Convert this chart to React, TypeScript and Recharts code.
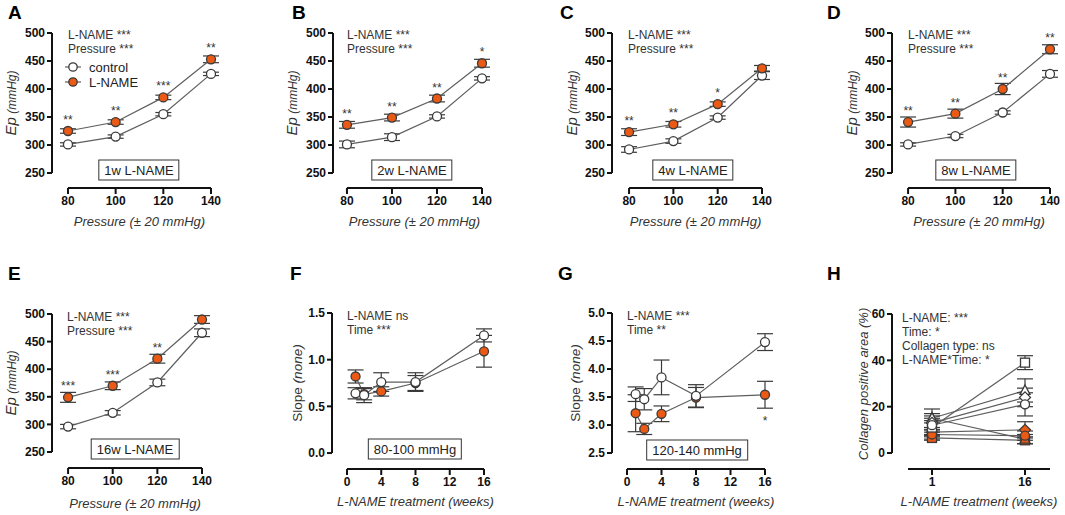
import React from 'react';
import { ComposedChart, Line, XAxis, YAxis, ErrorBar, ReferenceLine, LabelList } from 'recharts';

const FONT = "'Liberation Sans', Arial, Helvetica, sans-serif";
const ORANGE = '#EB5A14';
const EDGE = '#3a3a3a';
const LINE = '#5e5e5e';
const INK = '#333';

// A–E: Ep vs pressure step
const PRESSURE = [80, 100, 120, 140];
const EP_TICKS = [250, 300, 350, 400, 450, 500];

const CTRL_1W = [301, 315, 355, 427];
const CTRL_1W_ERR = [3, 3, 3, 3];
const LN_1W = [325, 341, 385, 453];
const LN_1W_ERR = [4, 4, 4, 6];
const SIG_1W = ['**', '**', '***', '**'];

const CTRL_2W = [301, 314, 351, 419];
const CTRL_2W_ERR = [6, 6, 3, 3];
const LN_2W = [336, 349, 383, 446];
const LN_2W_ERR = [6, 6, 6, 7];
const SIG_2W = ['**', '**', '**', '*'];

const CTRL_4W = [292, 307, 349, 424];
const CTRL_4W_ERR = [5, 4, 3, 7];
const LN_4W = [323, 337, 373, 437];
const LN_4W_ERR = [6, 5, 4, 5];
const SIG_4W = ['**', '**', '*', ''];

const CTRL_8W = [301, 316, 358, 427];
const CTRL_8W_ERR = [3, 3, 3, 6];
const LN_8W = [341, 356, 400, 471];
const LN_8W_ERR = [9, 8, 10, 8];
const SIG_8W = ['**', '**', '**', '**'];

const CTRL_16W = [296, 321, 376, 466];
const CTRL_16W_ERR = [4, 4, 6, 7];
const LN_16W = [349, 370, 419, 490];
const LN_16W_ERR = [9, 7, 8, 7];
const SIG_16W = ['***', '***', '**', ''];

// F, G: slope vs treatment time
const WEEKS = [1, 2, 4, 8, 16];
const WEEK_TICKS = [0, 4, 8, 12, 16];

const SLOPE_LO_CTRL = [0.64, 0.62, 0.76, 0.76, 1.26];
const SLOPE_LO_CTRL_ERR = [0.06, 0.08, 0.1, 0.1, 0.07];
const SLOPE_LO_LN = [0.82, 0.63, 0.66, 0.75, 1.09];
const SLOPE_LO_LN_ERR = [0.07, 0.06, 0.05, 0.08, 0.17];

const SLOPE_HI_CTRL = [3.55, 3.46, 3.85, 3.52, 4.48];
const SLOPE_HI_CTRL_ERR = [0.13, 0.19, 0.31, 0.2, 0.15];
const SLOPE_HI_LN = [3.21, 2.93, 3.2, 3.49, 3.54];
const SLOPE_HI_LN_ERR = [0.33, 0.1, 0.14, 0.18, 0.24];
const SIG_HI = ['', '', '', '', '*'];

// H: collagen positive area, 4 collagen types
const TIMES = [1, 16];
const COL_CTRL = { sq: [11, 39], tri: [15, 27], dia: [13, 24], circ: [12, 21] };
const COL_CTRL_ERR = { sq: [3, 3], tri: [4, 5], dia: [3, 4], circ: [3, 5] };
const COL_LN = { sq: [6.5, 5.5], tri: [15, 6], dia: [9, 10], circ: [8, 7.5] };
const COL_LN_ERR = { sq: [1, 1.5], tri: [2, 2], dia: [2, 3.5], circ: [2, 2] };

const epRows = (c: number[], cE: number[], l: number[], lE: number[], sig: string[]) =>
  PRESSURE.map((p, i) => ({ x: p, c: c[i], cE: cE[i], l: l[i], lE: lE[i], sig: sig[i] }));

const weekRows = (c: number[], cE: number[], l: number[], lE: number[], sig?: string[]) =>
  WEEKS.map((w, i) => ({ x: w, c: c[i], cE: cE[i], l: l[i], lE: lE[i], sig: sig ? sig[i] : '' }));

const SHAPES = ['sq', 'tri', 'dia', 'circ'] as const;
const colRows = TIMES.map((t, i) => {
  const row: any = { x: t };
  SHAPES.forEach((s) => {
    row['c_' + s] = (COL_CTRL as any)[s][i];
    row['cE_' + s] = (COL_CTRL_ERR as any)[s][i];
    row['l_' + s] = (COL_LN as any)[s][i];
    row['lE_' + s] = (COL_LN_ERR as any)[s][i];
  });
  return row;
});

function Marker({ cx, cy, shape, fill }: any) {
  if (cx == null || cy == null || isNaN(cy)) return null;
  const r = 4.5;
  const st = { fill, stroke: EDGE, strokeWidth: 1.3 };
  if (shape === 'sq') return <rect x={cx - r} y={cy - r} width={2 * r} height={2 * r} {...st} />;
  if (shape === 'tri')
    return <polygon points={`${cx},${cy - r - 1} ${cx + r + 0.5},${cy + r - 0.5} ${cx - r - 0.5},${cy + r - 0.5}`} {...st} />;
  if (shape === 'dia')
    return <polygon points={`${cx},${cy - r - 1} ${cx + r + 1},${cy} ${cx},${cy + r + 1} ${cx - r - 1},${cy}`} {...st} />;
  return <circle cx={cx} cy={cy} r={r} {...st} />;
}

const sigLabel = (where: 'top' | 'bottom') => (p: any) => {
  if (!p.value) return null;
  const vb = p.viewBox || {};
  const x = vb.x ?? p.x;
  const y = vb.y ?? p.y;
  return (
    <text x={x} y={where === 'top' ? y - 7 : y + 30} textAnchor="middle" fontSize={12} fill={INK} fontFamily={FONT}>
      {p.value}
    </text>
  );
};

type Geo = { left: number; top: number; w: number; h: number; xd: [number, number]; yd: [number, number]; xl: [number, number]; yl: [number, number] };
type Series = { key: string; err: string; fill: string; shape: string; sig?: 'top' | 'bottom' };

const ML = 60, MT = 12, MR = 24, XH = 48;

function Panel({ geo, data, series, xTicks, yTicks, yFmt, xTitle, yTitle, yDist, titleGap = 33 }: {
  geo: Geo; data: any[]; series: Series[]; xTicks: number[]; yTicks: number[];
  yFmt?: (v: number) => string; xTitle: string; yTitle: React.ReactNode; yDist: number; titleGap?: number;
}) {
  const { left, top, w, h, xd, yd, xl, yl } = geo;
  const xPix = (v: number) => ML + ((v - xd[0]) / (xd[1] - xd[0])) * w;
  const yPix = (v: number) => MT + ((yd[1] - v) / (yd[1] - yd[0])) * h;
  const tx = xPix((xl[0] + xl[1]) / 2);
  const ty = yPix((yl[0] + yl[1]) / 2);
  const tickStyle = { fill: '#111', fontSize: 12, fontWeight: 700, fontFamily: FONT };
  return (
    <div style={{ position: 'absolute', left: left - ML, top: top - MT }}>
      <ComposedChart width={ML + w + MR} height={MT + h + XH} data={data} margin={{ top: MT, right: MR, bottom: 0, left: 0 }}>
        <XAxis
          type="number"
          dataKey="x"
          domain={xd}
          ticks={xTicks}
          interval={0}
          height={XH}
          axisLine={false}
          tickLine={{ stroke: '#111', strokeWidth: 2 }}
          tickSize={6}
          tickMargin={2}
          tick={tickStyle}
        />
        <YAxis
          type="number"
          domain={yd}
          ticks={yTicks}
          interval={0}
          width={ML}
          axisLine={false}
          tickLine={{ stroke: '#111', strokeWidth: 2 }}
          tickSize={5}
          tickMargin={2}
          tick={tickStyle}
          tickFormatter={yFmt}
        />
        <ReferenceLine segment={[{ x: xd[0], y: yl[0] }, { x: xd[0], y: yl[1] }]} stroke="#111" strokeWidth={2} ifOverflow="visible" />
        <ReferenceLine segment={[{ x: xl[0], y: yd[0] }, { x: xl[1], y: yd[0] }]} stroke="#111" strokeWidth={2} ifOverflow="visible" />
        {series.map((s) => (
          <Line
            key={s.key}
            dataKey={s.key}
            stroke={LINE}
            strokeWidth={1.2}
            isAnimationActive={false}
            activeDot={false}
            dot={(p: any) => <Marker key={`${s.key}-${p.index}`} cx={p.cx} cy={p.cy} shape={s.shape} fill={s.fill} />}
          >
            <ErrorBar dataKey={s.err} width={8} stroke={EDGE} strokeWidth={1.2} direction="y" />
            {s.sig && <LabelList dataKey="sig" content={sigLabel(s.sig)} />}
          </Line>
        ))}
      </ComposedChart>
      <div
        style={{
          position: 'absolute', left: tx, top: MT + h + titleGap, transform: 'translate(-50%,-50%)', fontSize: 13,
          fontStyle: 'italic', color: INK, whiteSpace: 'nowrap', lineHeight: '15px',
        }}
      >
        {xTitle}
      </div>
      <div
        style={{
          position: 'absolute', left: ML - yDist, top: ty, transform: 'translate(-50%,-50%) rotate(-90deg)',
          color: INK, whiteSpace: 'nowrap', lineHeight: '16px',
        }}
      >
        {yTitle}
      </div>
    </div>
  );
}

const EP_SERIES: Series[] = [
  { key: 'c', err: 'cE', fill: '#fff', shape: 'circ' },
  { key: 'l', err: 'lE', fill: ORANGE, shape: 'circ', sig: 'top' },
];
const WEEK_SERIES_F: Series[] = [
  { key: 'l', err: 'lE', fill: ORANGE, shape: 'circ' },
  { key: 'c', err: 'cE', fill: '#fff', shape: 'circ' },
];
const WEEK_SERIES_G: Series[] = [
  { key: 'l', err: 'lE', fill: ORANGE, shape: 'circ', sig: 'bottom' },
  { key: 'c', err: 'cE', fill: '#fff', shape: 'circ' },
];
const COL_SERIES: Series[] = [
  ...SHAPES.map((s) => ({ key: 'l_' + s, err: 'lE_' + s, fill: ORANGE, shape: s })),
  ...SHAPES.map((s) => ({ key: 'c_' + s, err: 'cE_' + s, fill: '#fff', shape: s })),
];

const EP_TITLE = (
  <span style={{ fontStyle: 'italic' }}>
    <span style={{ fontSize: 15 }}>Ep</span>
    <span style={{ fontSize: 12 }}> (mmHg)</span>
  </span>
);
const SLOPE_TITLE = (
  <span style={{ fontSize: 13.5 }}>
    Slope <span style={{ fontStyle: 'italic' }}>(none)</span>
  </span>
);
const COL_TITLE = <span style={{ fontSize: 13, fontStyle: 'italic' }}>Collagen positive area (%)</span>;
const PRESS_X = 'Pressure (± 20 mmHg)';
const WEEK_X = 'L-NAME treatment (weeks)';

const fmt1 = (v: number) => v.toFixed(1);

const Txt = ({ x, y, lines, lh = 13.5, size = 12 }: { x: number; y: number; lines: string[]; lh?: number; size?: number }) => (
  <div style={{ position: 'absolute', left: x, top: y, fontSize: size, lineHeight: `${lh}px`, color: INK, whiteSpace: 'nowrap' }}>
    {lines.map((l) => (
      <div key={l}>{l}</div>
    ))}
  </div>
);

const Box = ({ cx, cy, text }: { cx: number; cy: number; text: string }) => (
  <div
    style={{
      position: 'absolute', left: cx, top: cy, transform: 'translate(-50%,-50%)', border: '1px solid #333',
      padding: '1px 5px', fontSize: 13, lineHeight: '17px', color: '#222', whiteSpace: 'nowrap', background: '#fff',
    }}
  >
    {text}
  </div>
);

const Letter = ({ x, y, t }: { x: number; y: number; t: string }) => (
  <div style={{ position: 'absolute', left: x, top: y, fontSize: 19, fontWeight: 700, lineHeight: '19px', color: '#000' }}>{t}</div>
);

const LegendRow = ({ y, fill, text }: { y: number; fill: string; text: string }) => (
  <div style={{ position: 'absolute', left: 63, top: y - 8, height: 16, display: 'flex', alignItems: 'center' }}>
    <svg width={20} height={16}>
      <line x1={2} y1={8} x2={18} y2={8} stroke={LINE} strokeWidth={1.2} />
      <circle cx={10} cy={8} r={4.2} fill={fill} stroke={EDGE} strokeWidth={1.3} />
    </svg>
    <span style={{ marginLeft: 6, fontSize: 13, color: '#222' }}>{text}</span>
  </div>
);

export default function App() {
  const epYd: [number, number] = [223.2, 500];
  return (
    <div style={{ position: 'fixed', left: 0, top: 0, width: 1065, height: 515, background: '#fff', fontFamily: FONT, overflow: 'hidden' }}>
      <Panel geo={{ left: 52, top: 33, w: 159, h: 155, xd: [73.3, 140], yd: epYd, xl: [80, 140], yl: [250, 500] }}
        data={epRows(CTRL_1W, CTRL_1W_ERR, LN_1W, LN_1W_ERR, SIG_1W)} series={EP_SERIES}
        xTicks={PRESSURE} yTicks={EP_TICKS} xTitle={PRESS_X} yTitle={EP_TITLE} yDist={41} />
      <Panel geo={{ left: 333, top: 33, w: 149, h: 155, xd: [73.8, 140], yd: epYd, xl: [80, 140], yl: [250, 500] }}
        data={epRows(CTRL_2W, CTRL_2W_ERR, LN_2W, LN_2W_ERR, SIG_2W)} series={EP_SERIES}
        xTicks={PRESSURE} yTicks={EP_TICKS} xTitle={PRESS_X} yTitle={EP_TITLE} yDist={41} />
      <Panel geo={{ left: 612, top: 33, w: 150, h: 155, xd: [72.3, 140], yd: epYd, xl: [80, 140], yl: [250, 500] }}
        data={epRows(CTRL_4W, CTRL_4W_ERR, LN_4W, LN_4W_ERR, SIG_4W)} series={EP_SERIES}
        xTicks={PRESSURE} yTicks={EP_TICKS} xTitle={PRESS_X} yTitle={EP_TITLE} yDist={40} />
      <Panel geo={{ left: 892, top: 33, w: 158, h: 155, xd: [73.2, 140], yd: epYd, xl: [80, 140], yl: [250, 500] }}
        data={epRows(CTRL_8W, CTRL_8W_ERR, LN_8W, LN_8W_ERR, SIG_8W)} series={EP_SERIES}
        xTicks={PRESSURE} yTicks={EP_TICKS} xTitle={PRESS_X} yTitle={EP_TITLE} yDist={40} />
      <Panel geo={{ left: 52, top: 314, w: 150, h: 154, xd: [72.8, 140], yd: [221, 500], xl: [80, 140], yl: [250, 500] }}
        data={epRows(CTRL_16W, CTRL_16W_ERR, LN_16W, LN_16W_ERR, SIG_16W)} series={EP_SERIES}
        xTicks={PRESSURE} yTicks={EP_TICKS} xTitle={PRESS_X} yTitle={EP_TITLE} yDist={41} titleGap={35} />
      <Panel geo={{ left: 332, top: 313, w: 152, h: 156, xd: [-1.75, 16], yd: [-0.171, 1.5], xl: [0, 16], yl: [0, 1.5] }}
        data={weekRows(SLOPE_LO_CTRL, SLOPE_LO_CTRL_ERR, SLOPE_LO_LN, SLOPE_LO_LN_ERR)} series={WEEK_SERIES_F}
        xTicks={WEEK_TICKS} yTicks={[0, 0.5, 1, 1.5]} yFmt={fmt1} xTitle={WEEK_X} yTitle={SLOPE_TITLE} yDist={35} titleGap={32} />
      <Panel geo={{ left: 612, top: 313, w: 153, h: 156, xd: [-1.74, 16], yd: [2.214, 5], xl: [0, 16], yl: [2.5, 5] }}
        data={weekRows(SLOPE_HI_CTRL, SLOPE_HI_CTRL_ERR, SLOPE_HI_LN, SLOPE_HI_LN_ERR, SIG_HI)} series={WEEK_SERIES_G}
        xTicks={WEEK_TICKS} yTicks={[2.5, 3, 3.5, 4, 4.5, 5]} yFmt={fmt1} xTitle={WEEK_X} yTitle={SLOPE_TITLE} yDist={37} titleGap={32} />
      <Panel geo={{ left: 892, top: 314, w: 158, h: 155, xd: [-5.45, 20.03], yd: [-6.9, 60], xl: [-2.87, 20.03], yl: [0, 60] }}
        data={colRows} series={COL_SERIES}
        xTicks={TIMES} yTicks={[0, 20, 40, 60]} xTitle={WEEK_X} yTitle={COL_TITLE} yDist={29} titleGap={32} />

      <Letter x={8} y={3} t="A" />
      <Letter x={292} y={3} t="B" />
      <Letter x={560} y={3} t="C" />
      <Letter x={827} y={3} t="D" />
      <Letter x={8} y={264} t="E" />
      <Letter x={290} y={264} t="F" />
      <Letter x={558} y={264} t="G" />
      <Letter x={827} y={264} t="H" />

      <Txt x={68} y={29} lines={['L-NAME ***', 'Pressure ***']} />
      <Txt x={347} y={29} lines={['L-NAME ***', 'Pressure ***']} />
      <Txt x={628} y={29} lines={['L-NAME ***', 'Pressure ***']} />
      <Txt x={908} y={29} lines={['L-NAME ***', 'Pressure ***']} />
      <Txt x={67} y={311} lines={['L-NAME ***', 'Pressure ***']} />
      <Txt x={347} y={310} lines={['L-NAME ns', 'Time ***']} />
      <Txt x={627} y={310} lines={['L-NAME ***', 'Time **']} />
      <Txt x={902} y={311} lh={14} lines={['L-NAME: ***', 'Time: *', 'Collagen type: ns', 'L-NAME*Time: *']} />

      <LegendRow y={67} fill="#fff" text="control" />
      <LegendRow y={82} fill={ORANGE} text="L-NAME" />

      <Box cx={139} cy={170} text="1w L-NAME" />
      <Box cx={412} cy={170} text="2w L-NAME" />
      <Box cx={693} cy={170} text="4w L-NAME" />
      <Box cx={976} cy={170} text="8w L-NAME" />
      <Box cx={135} cy={449} text="16w L-NAME" />
      <Box cx={415} cy={449} text="80-100 mmHg" />
      <Box cx={697} cy={450} text="120-140 mmHg" />
    </div>
  );
}
